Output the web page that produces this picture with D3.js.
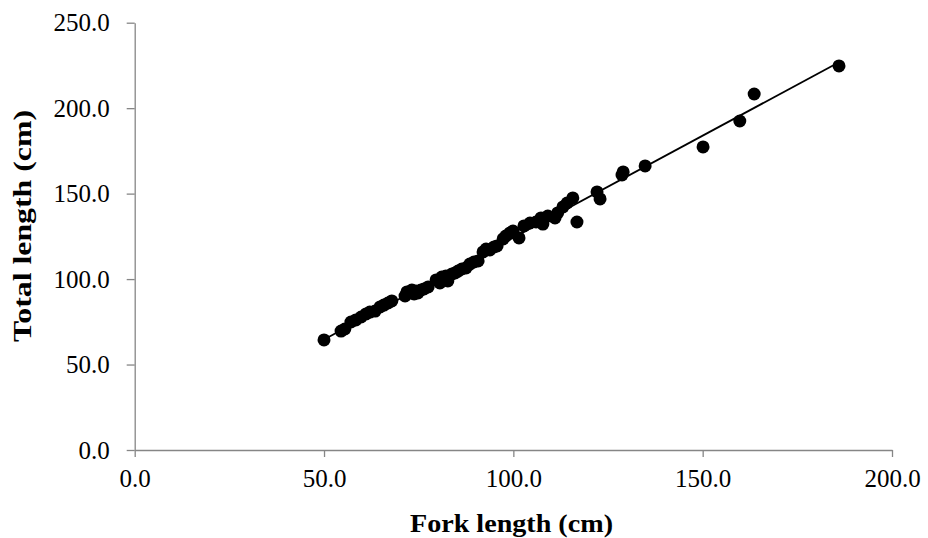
<!DOCTYPE html>
<html>
<head>
<meta charset="utf-8">
<script src="https://cdn.jsdelivr.net/npm/d3@7/dist/d3.min.js"></script>
<style>
	html, body { margin: 0; padding: 0; background: #ffffff; }
	svg { display: block; }
	.tick text { font-family: "Liberation Serif", "DejaVu Serif", serif; font-size: 25px; fill: #000; }
	.title { font-family: "Liberation Serif", "DejaVu Serif", serif; font-weight: bold; font-size: 26px; fill: #000; }
</style>
</head>
<body>
<div id="chart"></div>
<script>

// fork length vs total length (cm)
var forkLength = [
	50.0, 54.5, 55.5, 57.1, 58.4, 59.8, 61.1, 62.1, 63.5, 64.8,
	65.8, 66.9, 67.9, 71.4, 71.9, 72.7, 73.2, 73.8, 74.3, 74.8,
	75.6, 76.4, 77.5, 79.6, 80.6, 81.1, 82.2, 82.7, 83.8, 84.6,
	85.4, 86.4, 87.5, 88.5, 89.6, 90.7, 92.0, 92.8, 93.8, 94.9,
	95.7, 97.3, 98.0, 99.1, 99.9, 101.5, 102.8, 104.4, 106.0, 107.3,
	107.8, 109.1, 111.0, 111.7, 113.1, 114.2, 115.7, 116.8, 122.1, 122.9,
	128.7, 129.0, 134.8, 150.1, 159.8, 163.6, 186.0
];
var totalLength = [
	64.4, 69.6, 70.8, 74.9, 76.1, 77.8, 79.6, 80.7, 81.3, 83.7,
	84.8, 86.0, 87.2, 90.1, 92.5, 91.9, 93.6, 91.3, 93.0, 91.9,
	93.6, 94.2, 95.4, 99.5, 97.7, 101.2, 101.8, 98.9, 103.0, 103.6,
	104.7, 105.9, 106.5, 108.8, 110.0, 110.6, 115.9, 117.6, 117.0, 118.8,
	119.4, 123.5, 125.2, 127.0, 128.1, 124.1, 131.1, 132.8, 133.4, 135.8,
	132.2, 136.9, 135.8, 138.7, 142.2, 144.5, 147.5, 133.4, 151.0, 146.9,
	160.9, 162.7, 166.2, 177.3, 192.5, 208.3, 224.7
];
var xTicks = [0, 50, 100, 150, 200];
var yTicks = [0, 50, 100, 150, 200, 250];

var width = 928,
	height = 538,
	margin = {top: 22.7, right: 36, bottom: 88, left: 134.7};

var svg = d3.select("#chart").append("svg")
	.attr("width", width)
	.attr("height", height);

var x = d3.scaleLinear().domain([0, 200]).range([margin.left, width - margin.right]);
var y = d3.scaleLinear().domain([0, 250]).range([height - margin.bottom, margin.top]);

var fmt = d3.format(".1f");

// axes
var xAxis = svg.append("g")
	.attr("transform", "translate(0," + y(0) + ")")
	.call(d3.axisBottom(x).tickValues(xTicks).tickFormat(fmt).tickSize(7).tickSizeOuter(0).tickPadding(12));

var yAxis = svg.append("g")
	.attr("transform", "translate(" + x(0) + ",0)")
	.call(d3.axisLeft(y).tickValues(yTicks).tickFormat(fmt).tickSize(8).tickSizeOuter(0).tickPadding(17));

svg.selectAll(".domain, .tick line")
	.attr("stroke", "#868686")
	.attr("stroke-width", 1.3);

// trend line (least squares through the points)
var n = forkLength.length,
	mx = d3.mean(forkLength),
	my = d3.mean(totalLength),
	sxy = 0, sxx = 0;
for (var i = 0; i < n; i++) {
	sxy += (forkLength[i] - mx) * (totalLength[i] - my);
	sxx += (forkLength[i] - mx) * (forkLength[i] - mx);
}
var slope = sxy / sxx,
	icpt = my - slope * mx,
	x0 = d3.min(forkLength),
	x1 = d3.max(forkLength);

svg.append("line")
	.attr("x1", x(x0)).attr("y1", y(icpt + slope * x0))
	.attr("x2", x(x1)).attr("y2", y(icpt + slope * x1))
	.attr("stroke", "#000")
	.attr("stroke-width", 1.8);

// points
svg.append("g").selectAll("circle")
	.data(d3.range(n))
	.enter().append("circle")
	.attr("cx", function (d) { return x(forkLength[d]); })
	.attr("cy", function (d) { return y(totalLength[d]); })
	.attr("r", 6.5)
	.attr("fill", "#000");

// axis titles
svg.append("text")
	.attr("class", "title")
	.attr("x", 511.5)
	.attr("y", 532)
	.attr("text-anchor", "middle")
	.attr("textLength", 203)
	.attr("lengthAdjust", "spacingAndGlyphs")
	.text("Fork length (cm)");

svg.append("text")
	.attr("class", "title")
	.attr("transform", "translate(31,226) rotate(-90)")
	.attr("text-anchor", "middle")
	.attr("textLength", 232)
	.attr("lengthAdjust", "spacingAndGlyphs")
	.text("Total length (cm)");

</script>
</body>
</html>
